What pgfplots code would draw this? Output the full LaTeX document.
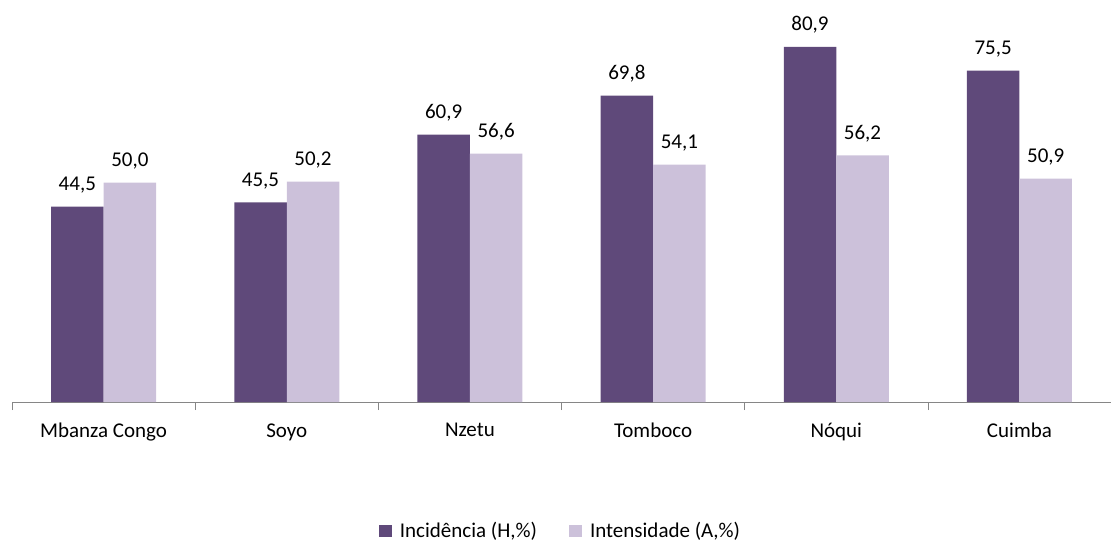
\documentclass[border=0pt]{standalone}
\usepackage{pgfplots}
\pgfplotsset{compat=1.18}
\usepackage{fontspec}
\setmainfont{Carlito}
\definecolor{darkp}{HTML}{5F497A}
\definecolor{lightp}{HTML}{CCC1DA}
\definecolor{axgray}{HTML}{868686}
\begin{document}
\fontsize{10.5}{12}\selectfont
\begin{tikzpicture}
\useasboundingbox (-6pt,-70pt) rectangle (549.5pt,201pt);
\begin{axis}[
  at={(0,0)}, anchor=south west,
  scale only axis, width=549.5pt, height=197.5pt,
  ybar, bar width=26.25pt, ybar=0pt,
  xmin=-0.5, xmax=5.5, ymin=0, ymax=90,
  axis y line=none,
  axis x line*=bottom,
  x axis line style={draw=axgray, -},
  xtick={0,1,2,3,4,5},
  xticklabels={Mbanza Congo,Soyo,Nzetu,Tomboco,Nóqui,Cuimba},
  major tick length=0pt,
  minor xtick={-0.5,0.5,1.5,2.5,3.5,4.5,5.5},
  minor tick length=4pt,
  tick align=outside,
  minor tick style={draw=axgray},
  /pgf/number format/assume math mode=true,
  xticklabel style={font=\fontsize{10.5}{12}\selectfont, yshift=-7pt},
  nodes near coords={\pgfmathprintnumber[fixed,fixed zerofill,precision=1,use comma,assume math mode=true]{\pgfplotspointmeta}},
  every node near coord/.append style={font=\fontsize{10.5}{12}\selectfont, black, yshift=3pt},
  legend style={at={(0.5,-0.3266)}, anchor=center, draw=none, legend columns=2,
    font=\fontsize{10.5}{12}\selectfont,
    /tikz/every odd column/.append style={column sep=2pt},
    /tikz/every even column/.append style={column sep=14pt}},
  legend image code/.code={\fill[#1] (0pt,-3.2pt) rectangle (6.5pt,3.2pt);},
  clip=false,
]
\addplot[fill=darkp, draw=none] coordinates {(0,44.5) (1,45.5) (2,60.9) (3,69.8) (4,80.9) (5,75.5)};
\addplot[fill=lightp, draw=none] coordinates {(0,50.0) (1,50.2) (2,56.6) (3,54.1) (4,56.2) (5,50.9)};
\legend{{Incidência (H,\%)},{Intensidade (A,\%)}}
\end{axis}
\end{tikzpicture}
\end{document}
